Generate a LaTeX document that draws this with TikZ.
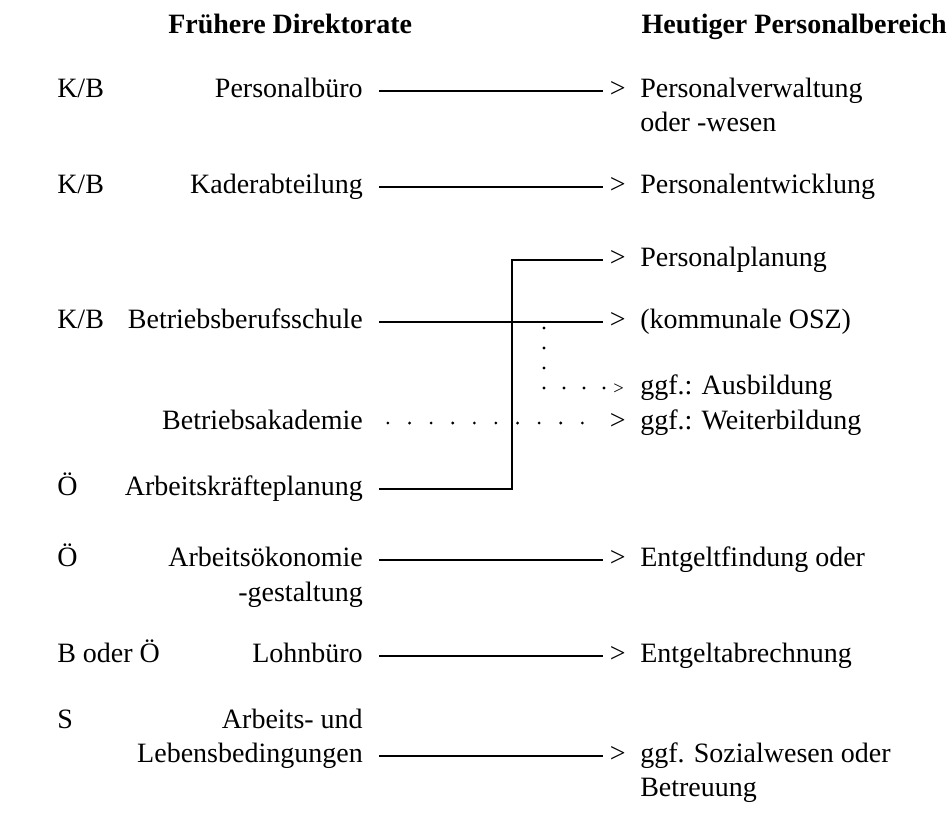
\documentclass[tikz,border=0pt]{standalone}
\usepackage{fontspec}
\setmainfont{Liberation Serif}
\usepackage{tikz}
\usetikzlibrary{positioning,calc}

\begin{document}
\begin{tikzpicture}[x=0.75pt, y=-0.75pt,
    txt/.style={font=\fontsize{21}{25}\selectfont, text height=14pt, text depth=3.6pt, inner sep=0pt},
    head/.style={txt, font=\fontsize{21}{25}\selectfont\bfseries},
    code/.style={txt, anchor=west},
    old/.style={txt, anchor=east, inner xsep=12pt},
    tip/.style={txt, anchor=west, inner xsep=5pt},
    small tip/.style={tip, font=\fontsize{14}{16}\selectfont, inner xsep=3pt},
    new/.style={txt, anchor=west},
    link/.style={line width=0.9pt},
    dotlink/.style={line width=2.3pt, line cap=round, dash pattern=on 0pt off 16.2pt, dash phase=9.5pt},
    dotdown/.style={dotlink, dash pattern=on 0pt off 15pt, dash phase=10.5pt}]

    \useasboundingbox (0,0) rectangle (949,826);

    % Ueberschriften
    \node[head, anchor=west] (hOld) at (168,27) {Frühere Direktorate};
    \node[head, anchor=east] (hNew) at (947,27) {Heutiger Personalbereich};

    % linke Spalte: Direktorat
    \node[code] (c1) at (57,91) {K/B};
    \node[code] (c2) at (57,187) {K/B};
    \node[code] (c4) at (57,322) {K/B};
    \node[code] (c6) at (57,489) {Ö};
    \node[code] (c7) at (57,560) {Ö};
    \node[code] (c8) at (57,656) {B oder Ö};
    \node[code] (c9) at (57,722) {S};

    % fruehere Bereiche
    \node[old] (o1) at (379,91) {Personalbüro};
    \node[old] (o2) at (379,187) {Kaderabteilung};
    \node[old] (o4) at (379,322) {Betriebsberufsschule};
    \node[old] (o5) at (379,423) {Betriebsakademie};
    \node[old] (o6) at (379,489) {Arbeitskräfteplanung};
    \node[old] (o7) at (379,560) {Arbeitsökonomie};
    \node[old] (o7b) at (379,595) {-gestaltung};
    \node[old] (o8) at (379,656) {Lohnbüro};
    \node[old] (o9a) at (379,722) {Arbeits- und};
    \node[old] (o9) at (379,756) {Lebensbedingungen};

    % Pfeilspitzen
    \node[tip] (t1) at (603,91) {>};
    \node[tip] (t2) at (603,187) {>};
    \node[tip] (t3) at (603,260) {>};
    \node[tip] (t4) at (603,322) {>};
    \node[small tip] (t4a) at (609,388) {>};
    \node[tip] (t5) at (603,423) {>};
    \node[tip] (t7) at (603,560) {>};
    \node[tip] (t8) at (603,656) {>};
    \node[tip] (t9) at (603,756) {>};

    % heutiger Personalbereich
    \node[new] (n1) at (640,91) {Personalverwaltung};
    \node[new] (n1b) at (640,125) {oder -wesen};
    \node[new] (n2) at (640,187) {Personalentwicklung};
    \node[new] (n3) at (640,260) {Personalplanung};
    \node[new] (n4) at (640,322) {(kommunale OSZ)};
    \node[new] (n4a) at (640,388) {ggf.: Ausbildung};
    \node[new] (n5) at (640,423) {ggf.: Weiterbildung};
    \node[new] (n7) at (640,560) {Entgeltfindung oder};
    \node[new] (n8) at (640,656) {Entgeltabrechnung};
    \node[new] (n9) at (640,756) {ggf. Sozialwesen oder};
    \node[new] (n9b) at (640,790) {Betreuung};

    \coordinate (knee) at (512,0);
    \coordinate (fork) at (544,322);

    % Verbindungen
    \draw[link] (o1.east) -- (t1.west);
    \draw[link] (o2.east) -- (t2.west);
    \draw[link] (o4.east) -- (t4.west);
    \draw[link] (o6.east) -- (o6.east -| knee) |- (t3.west);
    \draw[link] (o7.east) -- (t7.west);
    \draw[link] (o8.east) -- (t8.west);
    \draw[link] (o9.east) -- (t9.west);
    \draw[dotlink] (o5.east) -- (t5.west);
    \draw[dotdown] (fork) |- (t4a.west);
\end{tikzpicture}
\end{document}
